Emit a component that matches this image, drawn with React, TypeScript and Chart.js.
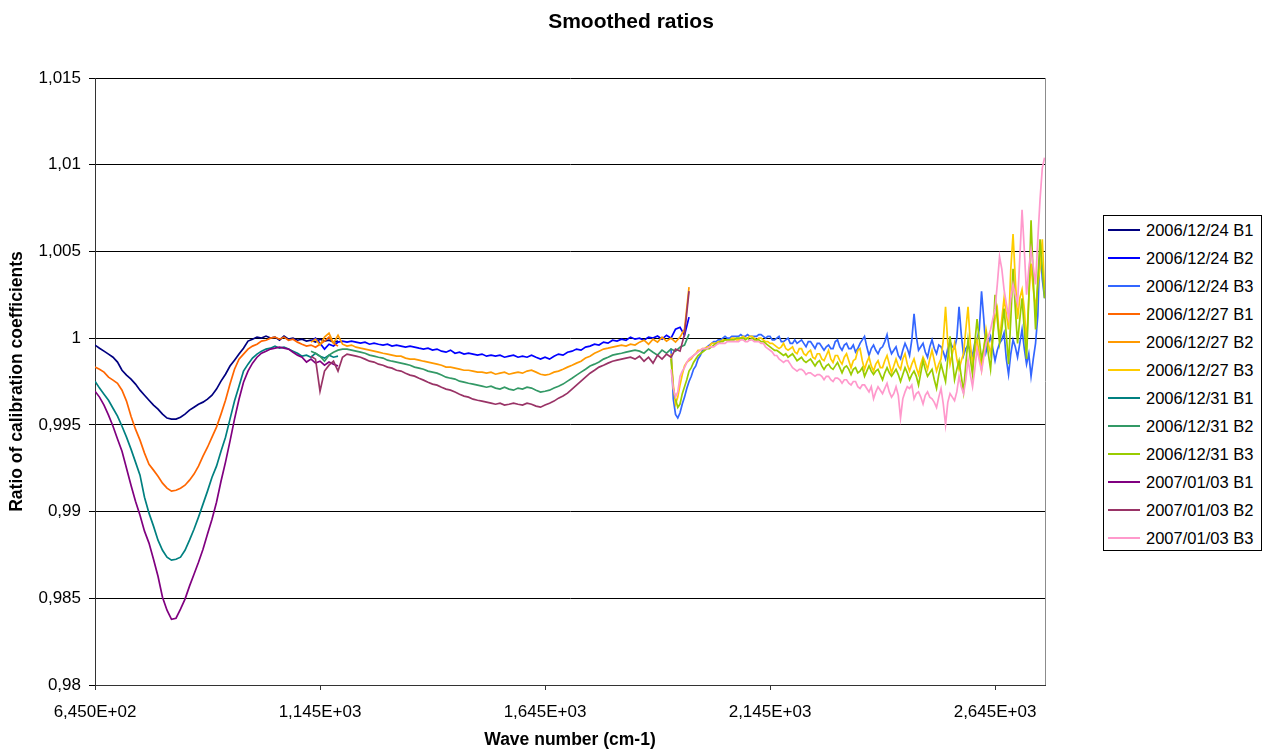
import React, { useEffect, useRef } from "react";
import { Chart, registerables } from "chart.js";

Chart.register(...registerables);

const TITLE = "Smoothed ratios";
const X_TITLE = "Wave number (cm-1)";
const Y_TITLE = "Ratio of calibration coefficients";

const X_TICKS = [645, 1145, 1645, 2145, 2645];
const X_TICK_LABELS = ["6,450E+02", "1,145E+03", "1,645E+03", "2,145E+03", "2,645E+03"];
const Y_TICKS = [0.98, 0.985, 0.99, 0.995, 1, 1.005, 1.01, 1.015];
const Y_TICK_LABELS = ["0,98", "0,985", "0,99", "0,995", "1", "1,005", "1,01", "1,015"];
const X_MIN = 645;
const X_MAX = 2756;
const Y_MIN = 0.98;
const Y_MAX = 1.015;

// wave-number grids of the three bands (cm-1): start and sampling step
const B1_START = 645;
const B1_STEP = 10;
const B2_START = 1125;
const B2_STEP = 10;
const B3_START = 1925;
const B3_STEP = 5;

const SERIES_NAMES = [
  "2006/12/24 B1", "2006/12/24 B2", "2006/12/24 B3",
  "2006/12/27 B1", "2006/12/27 B2", "2006/12/27 B3",
  "2006/12/31 B1", "2006/12/31 B2", "2006/12/31 B3",
  "2007/01/03 B1", "2007/01/03 B2", "2007/01/03 B3",
];
const SERIES_COLORS = [
  "#000080", "#0000FF", "#3366FF",
  "#FF6600", "#FF9900", "#FFCC00",
  "#008080", "#339966", "#99CC00",
  "#800080", "#993366", "#FF99CC",
];

// ---- Band 1 (645 .. 1185 cm-1, every 10) ----
const d1224B1 = [0.9996, 0.99942, 0.99925, 0.99908, 0.9989, 0.99862, 0.99815, 0.99787, 0.99764, 0.99735,
  0.997, 0.99671, 0.99642, 0.99614, 0.99591, 0.99562, 0.99539, 0.99533, 0.99533, 0.99544,
  0.99562, 0.99585, 0.99602, 0.99619, 0.99631, 0.99648, 0.99671, 0.99706, 0.99752, 0.99792,
  0.99839, 0.99873, 0.99908, 0.99942, 0.99983, 0.99994, 1.00006, 1.0, 1.00012, 1.0,
  1.00006, 0.99988, 1.00012, 0.99994, 1.0, 0.99988, 0.99994, 0.99983, 0.99988, 0.99977,
  0.99994, 0.99983, 0.99988, 0.99977, 0.99983];
const d1227B1 = [0.99833, 0.99821, 0.99804, 0.99775, 0.99758, 0.9974, 0.997, 0.99637, 0.9955, 0.99475,
  0.99412, 0.99337, 0.99273, 0.99239, 0.99204, 0.99164, 0.99135, 0.99118, 0.99123, 0.99135,
  0.99152, 0.99181, 0.99216, 0.99262, 0.9932, 0.99371, 0.99429, 0.99487, 0.99562, 0.99642,
  0.99735, 0.99821, 0.99879, 0.99908, 0.99937, 0.99954, 0.99965, 0.99983, 0.99988, 1.0,
  1.00006, 0.99994, 1.00006, 0.99988, 0.99994, 0.99977, 0.99965, 0.99954, 0.9996, 0.99948,
  0.99965, 0.99983, 1.00006, 0.99971, 0.99954];
const d1231B1 = [0.99752, 0.99712, 0.99677, 0.99642, 0.99596, 0.9955, 0.99492, 0.99429, 0.9936, 0.99285,
  0.9921, 0.99083, 0.98991, 0.98916, 0.98835, 0.98777, 0.98737, 0.9872, 0.98725, 0.98737,
  0.98777, 0.98835, 0.98898, 0.98968, 0.99043, 0.99118, 0.99198, 0.99262, 0.99348, 0.99429,
  0.99533, 0.99637, 0.99723, 0.9981, 0.9985, 0.99885, 0.99908, 0.99925, 0.99937, 0.99942,
  0.99954, 0.99942, 0.99948, 0.99937, 0.99925, 0.99913, 0.99896, 0.99902, 0.9989, 0.99913,
  0.99896, 0.99885, 0.99902, 0.9989, 0.99896];
const d0103B1 = [0.99694, 0.9966, 0.99614, 0.99556, 0.99492, 0.99418, 0.99348, 0.9925, 0.99152, 0.9906,
  0.98979, 0.98887, 0.98818, 0.98725, 0.98627, 0.98506, 0.98431, 0.98379, 0.98385, 0.98437,
  0.98495, 0.9857, 0.98639, 0.98708, 0.98783, 0.9887, 0.98956, 0.99054, 0.99175, 0.99285,
  0.99406, 0.99533, 0.99648, 0.99746, 0.9981, 0.99856, 0.9989, 0.99913, 0.99925, 0.99937,
  0.99942, 0.99948, 0.99942, 0.99937, 0.99919, 0.99902, 0.9989, 0.99862, 0.99879, 0.99856,
  0.99867, 0.99844, 0.99862, 0.9985, 0.99839];

// ---- Band 2 (1125 .. 1965 cm-1, every 10) ----
const d1224B2 = [0.99983, 1.0, 0.99971, 0.99937, 0.99965, 0.99954, 0.99977, 0.99983, 0.99977, 0.99983,
  0.99977, 0.99971, 0.99977, 0.99965, 0.99971, 0.99965, 0.9996, 0.99965, 0.99954, 0.9996,
  0.99954, 0.99948, 0.99954, 0.99948, 0.99942, 0.99937, 0.99942, 0.99931, 0.99937, 0.99925,
  0.99919, 0.99931, 0.99913, 0.99919, 0.99908, 0.99913, 0.99908, 0.99902, 0.99908, 0.99896,
  0.99902, 0.99896, 0.99902, 0.9989, 0.99896, 0.99902, 0.9989, 0.99896, 0.9989, 0.99902,
  0.9989, 0.99879, 0.9989, 0.99879, 0.99896, 0.99908, 0.99902, 0.99919, 0.99925, 0.99937,
  0.99931, 0.99948, 0.99954, 0.99965, 0.9996, 0.99977, 0.99971, 0.99988, 0.99983, 0.99994,
  0.99988, 1.00006, 0.99994, 1.0, 0.99988, 1.00006, 1.0, 1.00012, 0.99994, 1.00017,
  1.0, 1.00052, 1.00063, 1.00017, 1.00121];
const d1227B2 = [0.99977, 0.99994, 0.9996, 1.00006, 1.00029, 0.99971, 1.00017, 0.99965, 0.99954, 0.9996,
  0.99948, 0.99942, 0.99937, 0.99931, 0.99925, 0.99919, 0.99913, 0.99908, 0.99902, 0.99896,
  0.99896, 0.99885, 0.99879, 0.99879, 0.99873, 0.99867, 0.99862, 0.99856, 0.9985, 0.99844,
  0.99833, 0.99833, 0.99827, 0.99821, 0.99815, 0.99815, 0.9981, 0.99804, 0.99804, 0.99798,
  0.99804, 0.99792, 0.99798, 0.99804, 0.99792, 0.99798, 0.99804, 0.99798, 0.9981, 0.99815,
  0.99804, 0.99792, 0.99787, 0.99792, 0.99804, 0.9981, 0.99821, 0.99833, 0.99844, 0.99856,
  0.99867, 0.99885, 0.99896, 0.99913, 0.99925, 0.99937, 0.99942, 0.99948, 0.99954, 0.9996,
  0.99954, 0.99965, 0.9996, 0.99977, 0.99988, 0.99965, 0.99994, 0.99977, 1.00006, 0.99983,
  1.0, 0.99977, 1.00006, 1.00052, 1.00294];
const d1231B2 = [0.99925, 0.99913, 0.99896, 0.99867, 0.99902, 0.99919, 0.99931, 0.99937, 0.99937, 0.99931,
  0.99925, 0.99919, 0.99913, 0.99902, 0.99896, 0.9989, 0.99885, 0.99873, 0.99867, 0.99862,
  0.99856, 0.9985, 0.99844, 0.99833, 0.99827, 0.99821, 0.9981, 0.99804, 0.99798, 0.99787,
  0.99775, 0.99769, 0.99764, 0.99752, 0.99746, 0.9974, 0.99735, 0.99729, 0.99723, 0.99717,
  0.99723, 0.99712, 0.99706, 0.99717, 0.99706, 0.997, 0.99712, 0.99706, 0.99717, 0.99712,
  0.997, 0.99689, 0.99694, 0.997, 0.99712, 0.99723, 0.99735, 0.99752, 0.99769, 0.99787,
  0.99804, 0.99821, 0.99839, 0.9985, 0.99862, 0.99879, 0.9989, 0.99902, 0.99908, 0.99913,
  0.99919, 0.99925, 0.99931, 0.99925, 0.99913, 0.99937, 0.99919, 0.99902, 0.99931, 0.99913,
  0.99937, 0.99925, 0.99948, 0.9996, 1.00023];
const d0103B2 = [0.99896, 0.99879, 0.99694, 0.9981, 0.99844, 0.99867, 0.9981, 0.9989, 0.99908, 0.99902,
  0.99896, 0.9989, 0.99879, 0.99867, 0.99862, 0.9985, 0.99844, 0.99833, 0.99827, 0.99815,
  0.9981, 0.99798, 0.99787, 0.99781, 0.99769, 0.99758, 0.99746, 0.99735, 0.99729, 0.99717,
  0.99706, 0.997, 0.99689, 0.99677, 0.99666, 0.9966, 0.99648, 0.99642, 0.99637, 0.99631,
  0.99625, 0.99619, 0.99625, 0.99614, 0.99619, 0.99625, 0.99619, 0.99614, 0.99625, 0.99619,
  0.99608, 0.99602, 0.99614, 0.99625, 0.99637, 0.99654, 0.99666, 0.99683, 0.99706, 0.99729,
  0.99752, 0.99775, 0.99798, 0.99815, 0.99833, 0.99844, 0.99856, 0.99867, 0.99873, 0.99879,
  0.99885, 0.9989, 0.99879, 0.99896, 0.99867, 0.9989, 0.99856, 0.99902, 0.99879, 0.99908,
  0.9989, 0.99937, 0.99925, 1.00023, 1.00271];

// ---- Band 3 (1925 .. 2755 cm-1, every 5) ----
const d1224B3 = [0.9994, 0.9965, 0.9956, 0.9954, 0.9957, 0.9962, 0.9966, 0.9971, 0.9975, 0.9978,
  0.9982, 0.9984, 0.9988, 0.999, 0.9993, 0.9994, 0.9995, 0.9996, 0.9997, 0.9998,
  0.9998, 0.9999, 0.9999, 1.0, 1.0001, 1.0, 1.0, 1.0001, 1.0001, 1.0001,
  1.0001, 1.0002, 1.0001, 1.0001, 1.0002, 1.0001, 1.0001, 1.0001, 1.0001, 1.0002,
  1.0002, 1.0001, 1.0, 1.0001, 1.0001, 0.9999, 0.9999, 1.0, 1.0001, 0.9998,
  0.9998, 0.9999, 1.0, 0.9997, 0.9997, 0.9999, 0.9997, 0.9998, 0.9999, 0.9997,
  0.9995, 0.9998, 0.9998, 0.9996, 0.9994, 0.9997, 0.9997, 0.9995, 0.9993, 0.9995,
  0.9996, 0.9994, 0.9994, 0.9998, 0.9999, 0.9995, 0.9993, 0.9996, 0.9997, 0.9994,
  0.9994, 0.9996, 0.9992, 0.9994, 0.9997, 0.9999, 1.0001, 0.9995, 0.999, 0.9994,
  0.9996, 0.9993, 0.9991, 0.9994, 0.9995, 0.9998, 1.0002, 0.9995, 0.9991, 0.9993,
  0.9995, 0.999, 0.9988, 0.9993, 0.9997, 0.9994, 0.999, 0.9999, 1.0014, 1.0001,
  0.9993, 0.9995, 0.9997, 0.9992, 0.9989, 0.9995, 0.9999, 0.9994, 0.9991, 0.9996,
  0.9995, 0.9992, 0.9988, 0.9994, 0.9998, 0.9995, 0.9994, 1.0, 1.0018, 1.0002,
  0.999, 0.9994, 0.9996, 0.9993, 0.999, 0.9997, 0.9999, 1.0005, 1.0027, 1.0011,
  0.9992, 0.9997, 1.0001, 0.9994, 0.9987, 0.9993, 0.9997, 0.9999, 1.0003, 0.9988,
  0.9979, 0.9991, 0.9999, 0.9995, 0.9989, 0.9997, 1.0005, 0.9994, 0.9985, 0.9991,
  0.9978, 0.9988, 0.9997, 1.0013, 1.0054, 1.0034, 1.0023];
const d1227B3 = [0.9991, 0.9973, 0.9962, 0.9966, 0.9973, 0.9979, 0.9984, 0.9986, 0.9987, 0.9988,
  0.999, 0.9991, 0.9993, 0.9993, 0.9994, 0.9994, 0.9995, 0.9995, 0.9997, 0.9997,
  0.9997, 0.9998, 0.9998, 0.9999, 0.9999, 0.9999, 0.9999, 1.0, 1.0, 0.9999,
  0.9999, 1.0, 1.0001, 1.0, 1.0, 1.0001, 1.0001, 1.0, 0.9999, 1.0,
  1.0, 0.9999, 0.9998, 0.9998, 0.9997, 0.9997, 0.9996, 0.9995, 0.9994, 0.9995,
  0.9997, 0.9994, 0.9993, 0.9994, 0.9995, 0.9992, 0.9991, 0.9994, 0.9994, 0.9991,
  0.999, 0.9992, 0.9993, 0.9989, 0.9988, 0.9991, 0.9991, 0.9988, 0.9987, 0.999,
  0.9993, 0.9988, 0.9986, 0.999, 0.999, 0.9987, 0.9985, 0.9989, 0.9991, 0.9987,
  0.9983, 0.9987, 0.9988, 0.9993, 0.9994, 0.9987, 0.9982, 0.9986, 0.9989, 0.9984,
  0.9981, 0.9985, 0.9987, 0.9983, 0.9983, 0.9987, 0.999, 0.9985, 0.998, 0.9984,
  0.9988, 0.9984, 0.9982, 0.9988, 0.9991, 0.9985, 0.9981, 0.9985, 0.9988, 0.9983,
  0.9979, 0.9985, 0.9989, 0.9986, 0.9982, 0.9988, 0.9993, 0.9987, 0.9981, 0.9985,
  0.9988, 0.9999, 1.0018, 0.9997, 0.9985, 0.9991, 0.9997, 0.9988, 0.9982, 0.9987,
  0.9991, 1.0005, 1.0018, 0.9997, 0.9985, 0.9992, 0.9999, 0.9991, 0.9982, 0.9994,
  1.0005, 0.9997, 0.9991, 1.0002, 1.0011, 1.0017, 0.9999, 1.0011, 1.0023, 1.0014,
  1.0005, 1.004, 1.006, 1.0034, 1.0011, 1.0023, 1.0028, 1.0017, 0.9997, 1.0023,
  1.0043, 1.0028, 1.0017, 1.0031, 1.004, 1.0057, 1.0028];
const d1231B3 = [0.9988, 0.9971, 0.9965, 0.996, 0.9962, 0.9968, 0.9972, 0.9976, 0.9981, 0.9983,
  0.9986, 0.9988, 0.999, 0.9991, 0.9992, 0.9993, 0.9994, 0.9994, 0.9995, 0.9996,
  0.9997, 0.9997, 0.9998, 0.9998, 0.9999, 0.9999, 0.9999, 0.9999, 0.9999, 1.0,
  1.0, 1.0, 1.0, 0.9999, 1.0, 0.9999, 1.0, 0.9999, 0.9999, 0.9999,
  0.9998, 0.9998, 0.9997, 0.9996, 0.9995, 0.9994, 0.9993, 0.9993, 0.9992, 0.9991,
  0.999, 0.9991, 0.9989, 0.999, 0.9991, 0.9989, 0.9987, 0.9988, 0.9989, 0.9987,
  0.9986, 0.9987, 0.9988, 0.9986, 0.9984, 0.9986, 0.9987, 0.9984, 0.9982, 0.9984,
  0.9985, 0.9983, 0.9982, 0.9984, 0.9986, 0.9983, 0.998, 0.9983, 0.9984, 0.9982,
  0.9979, 0.9982, 0.9983, 0.998, 0.9981, 0.9983, 0.9978, 0.9981, 0.9984, 0.9981,
  0.9979, 0.9981, 0.9982, 0.9979, 0.9976, 0.998, 0.9983, 0.998, 0.9978, 0.998,
  0.9982, 0.9979, 0.9975, 0.9979, 0.9983, 0.998, 0.9976, 0.9979, 0.9981, 0.9978,
  0.9973, 0.998, 0.9987, 0.9982, 0.9978, 0.998, 0.9982, 0.9976, 0.9971, 0.9979,
  0.9985, 0.998, 0.9975, 0.9988, 1.0001, 0.9988, 0.9976, 0.9982, 0.9987, 0.9978,
  0.9969, 0.9985, 0.9999, 0.9988, 0.9979, 0.9997, 1.0011, 0.9999, 0.9988, 0.9994,
  1.0002, 0.9991, 0.9982, 0.9999, 1.0025, 1.0011, 0.9997, 1.0005, 1.0017, 1.0002,
  0.9985, 1.0011, 1.004, 1.0017, 0.9997, 1.0011, 1.0023, 1.0005, 0.9988, 1.0023,
  1.0068, 1.0034, 1.0005, 1.0034, 1.0057, 1.004, 1.0023];
const d0103B3 = [0.9982, 0.9971, 0.9966, 0.9969, 0.9978, 0.9981, 0.9983, 0.9986, 0.9988, 0.9989,
  0.999, 0.9991, 0.9992, 0.9993, 0.9994, 0.9994, 0.9994, 0.9995, 0.9995, 0.9995,
  0.9996, 0.9997, 0.9997, 0.9997, 0.9997, 0.9998, 0.9998, 0.9998, 0.9998, 0.9998,
  0.9998, 0.9999, 0.9999, 0.9998, 0.9998, 0.9999, 0.9999, 0.9998, 0.9998, 0.9998,
  0.9997, 0.9997, 0.9995, 0.9994, 0.9993, 0.9992, 0.999, 0.999, 0.9988, 0.9987,
  0.9986, 0.9987, 0.9987, 0.9985, 0.9983, 0.9982, 0.9981, 0.9982, 0.9982, 0.9981,
  0.9979, 0.998, 0.998, 0.9979, 0.9978, 0.9979, 0.9979, 0.9978, 0.9976, 0.9978,
  0.9978, 0.9976, 0.9975, 0.9977, 0.9977, 0.9976, 0.9974, 0.9976, 0.9976, 0.9974,
  0.9973, 0.9975, 0.9975, 0.9972, 0.9971, 0.9973, 0.9973, 0.9971, 0.9969, 0.9972,
  0.9965, 0.9969, 0.9972, 0.997, 0.9968, 0.9971, 0.9974, 0.9969, 0.9966, 0.9968,
  0.9972, 0.9967, 0.9954, 0.9965, 0.9969, 0.9972, 0.9971, 0.9973, 0.9965, 0.9968,
  0.9969, 0.9966, 0.9962, 0.9967, 0.9969, 0.9966, 0.9965, 0.9963, 0.996, 0.9966,
  0.9971, 0.9962, 0.995, 0.9963, 0.9968, 0.9966, 0.9964, 0.9969, 0.9978, 0.9972,
  0.9968, 0.9976, 0.9988, 0.9979, 0.9972, 0.9982, 0.9994, 0.9987, 0.9981, 0.9989,
  0.9997, 1.0001, 1.0005, 1.0011, 1.0017, 1.0031, 1.0047, 1.004, 1.0028, 1.002,
  1.0012, 1.0023, 1.0031, 1.0025, 1.002, 1.0046, 1.0074, 1.0051, 1.0025, 1.004,
  1.0051, 1.0041, 1.0031, 1.0057, 1.008, 1.0098, 1.0104];

const SERIES_VALUES = [
  d1224B1, d1224B2, d1224B3,
  d1227B1, d1227B2, d1227B3,
  d1231B1, d1231B2, d1231B3,
  d0103B1, d0103B2, d0103B3,
];
const BAND_START = [B1_START, B2_START, B3_START];
const BAND_STEP = [B1_STEP, B2_STEP, B3_STEP];

const FONT = "'Liberation Sans', Arial, sans-serif";

const plotBorder = {
  id: "plotBorder",
  afterDatasetsDraw(chart: any) {
    const { ctx, chartArea } = chart;
    ctx.save();
    ctx.strokeStyle = "#8c8c8c";
    ctx.lineWidth = 1;
    ctx.beginPath();
    ctx.moveTo(Math.round(chartArea.right) + 0.5, chartArea.top);
    ctx.lineTo(Math.round(chartArea.right) + 0.5, chartArea.bottom);
    ctx.stroke();
    ctx.restore();
  },
};

const titlePlugin = {
  id: "pageTitle",
  afterDraw(chart: any) {
    const ctx = chart.ctx;
    ctx.save();
    ctx.font = `bold 21px ${FONT}`;
    ctx.fillStyle = "#000";
    ctx.textAlign = "center";
    ctx.textBaseline = "middle";
    ctx.fillText(TITLE, 631, 22);
    ctx.restore();
  },
};

export default function App() {
  const canvasRef = useRef<HTMLCanvasElement | null>(null);

  useEffect(() => {
    const canvas = canvasRef.current;
    if (!canvas) return;
    const datasets = SERIES_NAMES.map((name, i) => {
      const band = i % 3;
      return {
        label: name,
        data: SERIES_VALUES[i].map((v, k) => ({ x: BAND_START[band] + k * BAND_STEP[band], y: v })),
        borderColor: SERIES_COLORS[i],
        backgroundColor: SERIES_COLORS[i],
        borderWidth: 1.7,
        pointRadius: 0,
        tension: 0,
        order: SERIES_NAMES.length - i,
      };
    });
    const chart = new Chart(canvas, {
      type: "line",
      data: { datasets },
      plugins: [plotBorder, titlePlugin],
      options: {
        responsive: false,
        animation: false,
        maintainAspectRatio: false,
        layout: { padding: { top: 78, right: 219, bottom: 0, left: 0 } },
        plugins: {
          legend: { display: false },
          tooltip: { enabled: false },
          title: { display: false },
        },
        scales: {
          x: {
            type: "linear",
            min: X_MIN,
            max: X_MAX,
            afterBuildTicks: (s: any) => {
              s.ticks = X_TICKS.map((v) => ({ value: v }));
            },
            afterFit: (s: any) => {
              s.height = 66;
            },
            ticks: {
              autoSkip: false,
              maxRotation: 0,
              padding: 12,
              color: "#000",
              font: { family: FONT, size: 17 },
              callback: (v: any) => {
                const i = X_TICKS.indexOf(Number(v));
                return i >= 0 ? X_TICK_LABELS[i] : "";
              },
            },
            grid: { drawOnChartArea: false, drawTicks: true, tickLength: 5, color: "#333" },
            border: { display: true, color: "#333", width: 1 },
            title: {
              display: true,
              text: X_TITLE,
              color: "#000",
              font: { family: FONT, size: 17.5, weight: "bold" },
              padding: { top: 0, bottom: 0 },
            },
          },
          y: {
            type: "linear",
            min: Y_MIN,
            max: Y_MAX,
            afterBuildTicks: (s: any) => {
              s.ticks = Y_TICKS.map((v) => ({ value: v }));
            },
            afterFit: (s: any) => {
              s.width = 95;
            },
            ticks: {
              padding: 8,
              color: "#000",
              font: { family: FONT, size: 17 },
              callback: (v: any) => {
                const i = Y_TICKS.findIndex((t) => Math.abs(t - Number(v)) < 1e-9);
                return i >= 0 ? Y_TICK_LABELS[i] : "";
              },
            },
            grid: { color: "#000", lineWidth: 1, tickLength: 6 },
            border: { display: true, color: "#333", width: 1 },
            title: {
              display: true,
              text: Y_TITLE,
              color: "#000",
              font: { family: FONT, size: 17.5, weight: "bold" },
              padding: { top: 7, bottom: 0 },
            },
          },
        },
      },
    } as any);
    return () => chart.destroy();
  }, []);

  return (
    <div style={{ position: "fixed", left: 0, top: 0, width: 1264, height: 751, background: "#fff" }}>
      <canvas ref={canvasRef} width={1264} height={751} style={{ display: "block", width: 1264, height: 751 }} />
      <div
        style={{
          position: "absolute",
          left: 1103,
          top: 215,
          width: 159,
          height: 336,
          border: "1px solid #000",
          background: "#fff",
          boxSizing: "border-box",
          fontFamily: FONT,
          fontSize: 16.5,
          color: "#000",
        }}
      >
        {SERIES_NAMES.map((name, i) => (
          <div key={name} style={{ height: 28, display: "flex", alignItems: "center", whiteSpace: "nowrap" }}>
            <span style={{ display: "inline-block", width: 32, height: 0, borderTop: `2px solid ${SERIES_COLORS[i]}`, marginLeft: 4, marginRight: 6, flex: "none" }} />
            <span>{name}</span>
          </div>
        ))}
      </div>
    </div>
  );
}
